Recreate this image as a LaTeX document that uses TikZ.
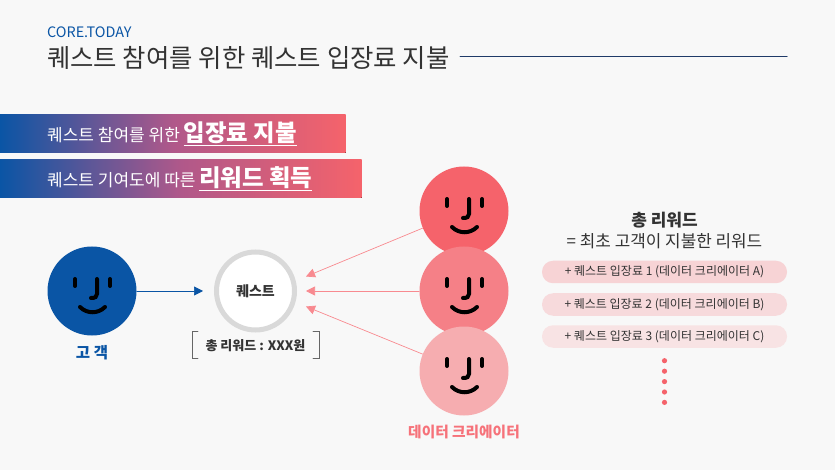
\documentclass[tikz,border=0pt]{standalone}
\usepackage{fontspec}
\setmainfont{Noto Sans CJK KR}
\usetikzlibrary{arrows.meta,positioning}

\definecolor{bgcol}{HTML}{F8F8F8}
\definecolor{coreblue}{HTML}{0A55A5}
\definecolor{corered}{HTML}{F5636B}
\definecolor{coremid}{HTML}{B0588A}
\definecolor{creatorBcol}{HTML}{F58087}
\definecolor{creatorCcol}{HTML}{F6ADB0}
\definecolor{titlecol}{HTML}{333333}
\definecolor{linecol}{HTML}{1F3A68}

\tikzset{
  facenode/.style={circle, inner sep=0pt, minimum size=89pt},
  facemark/.style={draw=black, line width=4pt, line cap=round},
  pillnode/.style={rounded corners=11pt, minimum width=245pt, minimum height=22.5pt,
        inner sep=0pt, text=titlecol, font=\fontsize{12}{12}\selectfont},
  barfill/.style={left color=coreblue, right color=corered, middle color=coremid, draw=none},
  tip/.style={-{Triangle[length=9pt,width=9pt]}}
}

\newcommand{\facemarks}[1]{%
  \begin{scope}[shift={(#1)}]
    \draw [facemark] (-17,-12) -- (-17,-5);
    \draw [facemark] (18,-12) -- (18,-5);
    \draw [facemark] (5,-12) -- (5,3) .. controls (5,6) and (3,7) .. (-1,7);
    \draw [facemark] (-12,16) .. controls (-5,23) and (6,23) .. (13,16);
  \end{scope}}

\begin{document}
\begin{tikzpicture}[x=1pt, y=-1pt, >=stealth, line cap=round]

    \fill [bgcol] (0,0) rectangle (835,470);
    \useasboundingbox (0,0) rectangle (835,470);

    % header
    \node (brand) at (47,32.5) [anchor=west, inner sep=0pt, text=coreblue]
        {\fontsize{14.4}{14}\selectfont CORE.TODAY};
    \node (title) at (47,58) [anchor=west, inner sep=0pt, text=titlecol]
        {\fontsize{25.4}{26}\selectfont 퀘스트 참여를 위한 퀘스트 입장료 지불};
    \coordinate (ruleL) at (460,57);
    \coordinate (ruleR) at (787,57);
    \draw [linecol, line width=1pt] (ruleL) -- (ruleR);

    % gradient bars
    \fill [barfill] (0,115) rectangle (345.5,153);
    \fill [barfill] (0,160) rectangle (361.5,198);
    \node (barA) at (47,142) [anchor=base west, inner sep=0pt, text=white]
        {\fontsize{17}{17}\selectfont 퀘스트 참여를 위한 \fontsize{23.4}{24}\selectfont\bfseries\underline{입장료 지불}};
    \node (barB) at (47,187) [anchor=base west, inner sep=0pt, text=white]
        {\fontsize{17}{17}\selectfont 퀘스트 기여도에 따른 \fontsize{23.4}{24}\selectfont\bfseries\underline{리워드 획득}};

    % customer and quest
    \node [facenode, fill=coreblue] (customer) at (92,291) {};
    \facemarks{customer}
    \node (customerL) at (92,353) [text=coreblue, inner sep=0pt]
        {\fontsize{15.5}{15}\selectfont\bfseries 고 객};

    \node [circle, draw=black!15, line width=5pt, fill=white, minimum size=78pt, inner sep=0pt,
        font=\fontsize{14}{14}\selectfont\bfseries, text=titlecol] (quest) at (255.5,291) {퀘스트};
    \node (reward) at (255.5,345.5) [inner sep=0pt, text=titlecol]
        {\fontsize{13}{13}\selectfont\bfseries 총 리워드 : XXX원};
    \draw [black!60, line width=0.8pt] (198,331) -- (192,331) -- (192,358) -- (198,358);
    \draw [black!60, line width=0.8pt] (313,331) -- (319,331) -- (319,358) -- (313,358);

    % creators
    \foreach \name/\yy/\col in {creatorA/211/corered, creatorB/291/creatorBcol, creatorC/371/creatorCcol}{
        \node [facenode, fill=\col] (\name) at (464,\yy) {};
        \facemarks{\name}
    }
    \node (creatorL) at (464,432.5) [text=corered!90!white, inner sep=0pt]
        {\fontsize{14.7}{15}\selectfont\bfseries 데이터 크리에이터};

    % arrows
    \coordinate (inCustomer) at (203,291);
    \coordinate (inA) at (306,276.5);
    \coordinate (inB) at (306,291);
    \coordinate (inC) at (306,306.5);
    \draw [tip, coreblue, line width=0.7pt] (customer) -- (inCustomer);
    \draw [tip, corered!75!white, line width=0.7pt] (creatorA) -- (inA);
    \draw [tip, corered!75!white, line width=0.7pt] (creatorB) -- (inB);
    \draw [tip, corered!75!white, line width=0.7pt] (creatorC) -- (inC);

    % right column
    \node (totalT) at (664.5,220) [inner sep=0pt, text=titlecol]
        {\fontsize{17}{17}\selectfont\bfseries 총 리워드};
    \node (totalE) at (664.5,241.5) [inner sep=0pt, text=titlecol]
        {\fontsize{16.9}{17}\selectfont = 최초 고객이 지불한 리워드};
    \node [pillnode, fill=corered!25!bgcol] (feeA) at (664.5,272) {+ 퀘스트 입장료 1 (데이터 크리에이터 A)};
    \node [pillnode, fill=corered!20!bgcol] (feeB) at (664.5,304.5) {+ 퀘스트 입장료 2 (데이터 크리에이터 B)};
    \node [pillnode, fill=corered!14!bgcol] (feeC) at (664.5,336.5) {+ 퀘스트 입장료 3 (데이터 크리에이터 C)};

    \foreach \yy in {360.7,371.2,381.6,392,402.4}
        \fill [corered] (664.5,\yy) circle (2.6);

\end{tikzpicture}
\end{document}
